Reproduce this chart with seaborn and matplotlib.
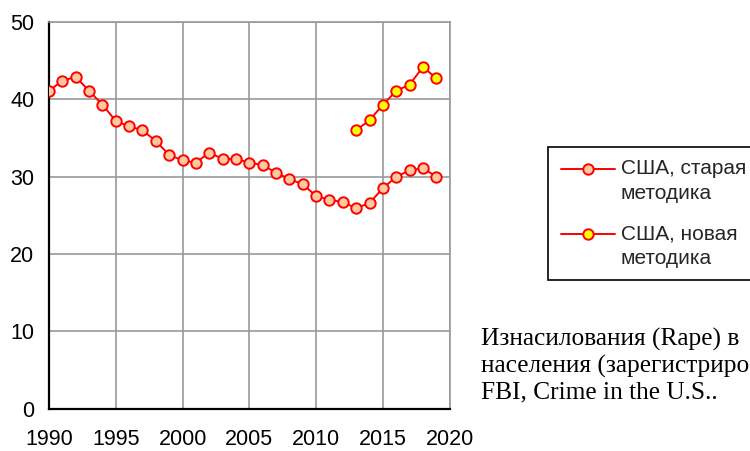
import matplotlib
matplotlib.use("Agg")
import numpy as np
import matplotlib.pyplot as plt
import seaborn as sns
import pandas as pd
from matplotlib.lines import Line2D
from matplotlib.legend_handler import HandlerLine2D

years_old = list(range(1990, 2020))
rate_old = [41.1, 42.4, 42.9, 41.1, 39.3, 37.2, 36.5, 36.0, 34.6, 32.8,
            32.1, 31.8, 33.1, 32.3, 32.3, 31.8, 31.5, 30.5, 29.7, 29.0,
            27.5, 27.0, 26.7, 25.9, 26.6, 28.5, 30.0, 30.8, 31.1, 30.0]
years_new = list(range(2013, 2020))
rate_new = [36.0, 37.3, 39.3, 41.1, 41.9, 44.2, 42.7]

label_old = "США, старая\nметодика"
label_new = "США, новая\nметодика"
x_ticks = [1990, 1995, 2000, 2005, 2010, 2015, 2020]
y_ticks = [0, 10, 20, 30, 40, 50]
caption = "Изнасилования (Rape) в\nнаселения (зарегистриро\nFBI, Crime in the U.S.."

OLD_FILL = "#FFC89E"
NEW_FILL = "#FFFF00"

sns.set_style("white")
plt.rcParams['font.family'] = ['Liberation Sans', 'DejaVu Sans']

fig = plt.figure(figsize=(7.5, 4.51), dpi=100)
ax = fig.add_axes([49/750, 1 - 408.6/451, (449.7 - 49)/750, (408.6 - 22)/451])

df_old = pd.DataFrame({"year": years_old, "rate": rate_old})
df_new = pd.DataFrame({"year": years_new, "rate": rate_new})

mk = dict(marker="o", markersize=7.5, markeredgecolor="red", markeredgewidth=1.4)
sns.lineplot(data=df_old, x="year", y="rate", ax=ax, color="red", lw=1.4,
             markerfacecolor=OLD_FILL, zorder=3, **mk)
sns.lineplot(data=df_new, x="year", y="rate", ax=ax, color="red", lw=1.4,
             markerfacecolor=NEW_FILL, zorder=3, **mk)

ax.set_xlim(1990, 2020)
ax.set_ylim(0, 50)
ax.set_xticks(x_ticks)
ax.set_yticks(y_ticks)
ax.set_xlabel("")
ax.set_ylabel("")
ax.grid(True, color="#999999", lw=1.2)
ax.set_axisbelow(True)
for s in ["top", "right"]:
    ax.spines[s].set_color("#999999")
    ax.spines[s].set_linewidth(1.2)
for s in ["left", "bottom"]:
    ax.spines[s].set_color("black")
    ax.spines[s].set_linewidth(1.6)
ax.tick_params(axis="both", direction="out", length=4.5, width=1.3,
               color="black", labelsize=15.5, labelcolor="black")
ax.tick_params(axis="y", pad=6)
ax.tick_params(axis="x", pad=10)


class TopLineHandler(HandlerLine2D):
    def __init__(self, dy, **kw):
        super().__init__(**kw)
        self.dy = dy

    def create_artists(self, legend, orig_handle, xdescent, ydescent,
                       width, height, fontsize, trans):
        arts = super().create_artists(legend, orig_handle, xdescent, ydescent,
                                      width, height, fontsize, trans)
        for a in arts:
            a.set_ydata(np.asarray(a.get_ydata()) + self.dy)
        return arts


h_old = Line2D([], [], color="red", lw=1.4, markerfacecolor=OLD_FILL, **mk)
h_new = Line2D([], [], color="red", lw=1.4, markerfacecolor=NEW_FILL, **mk)
hmap = {h_old: TopLineHandler(9.0), h_new: TopLineHandler(9.0)}
leg = fig.legend([h_old, h_new], [label_old, label_new], loc="upper left",
                 bbox_to_anchor=(548/750, 0, 0.35, 1 - 147/451), mode="expand",
                 frameon=True, fancybox=False, edgecolor="black", framealpha=1,
                 fontsize=15, handlelength=2.6, handletextpad=0.3,
                 borderpad=0.6, labelspacing=1.05, borderaxespad=0,
                 handler_map=hmap)
leg.get_frame().set_linewidth(1.2)
for t in leg.get_texts():
    t.set_linespacing(1.35)

fig.text(481/750, 1 - 328/451, caption, ha="left", va="top",
         family=["Liberation Serif", "DejaVu Serif"], fontsize=18.3,
         linespacing=1.2, color="black")

fig.savefig("out.png", dpi=100)
